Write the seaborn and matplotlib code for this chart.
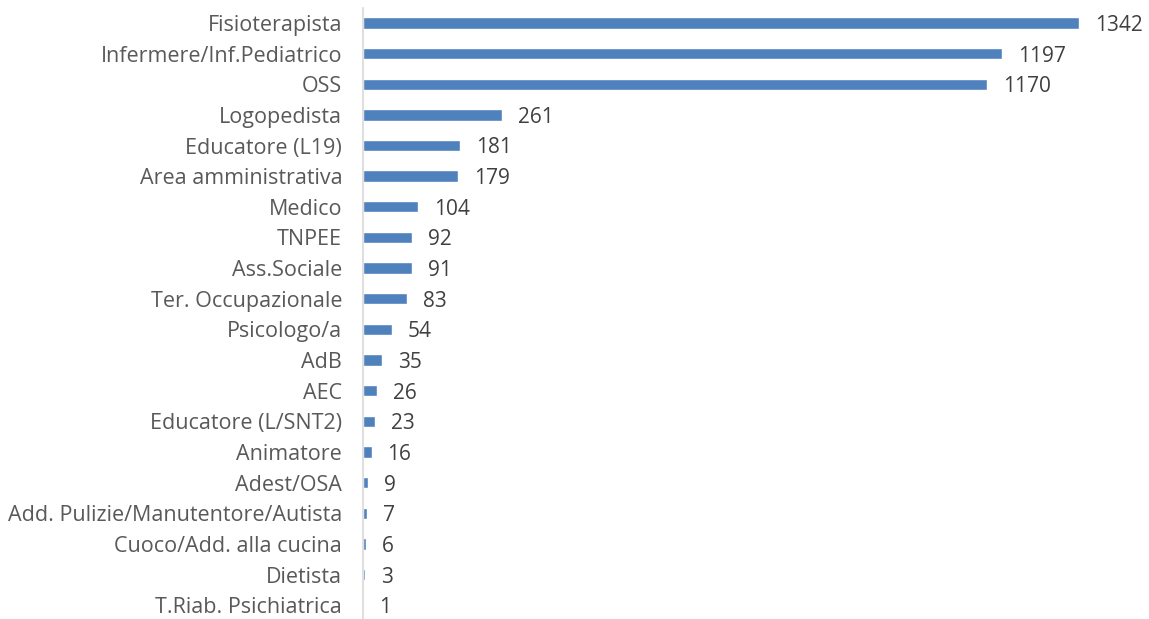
import matplotlib
matplotlib.use("Agg")
import matplotlib.pyplot as plt
import seaborn as sns
import pandas as pd

categories = ["Fisioterapista", "Infermere/Inf.Pediatrico", "OSS", "Logopedista",
              "Educatore (L19)", "Area amministrativa", "Medico", "TNPEE",
              "Ass.Sociale", "Ter. Occupazionale", "Psicologo/a", "AdB", "AEC",
              "Educatore (L/SNT2)", "Animatore", "Adest/OSA",
              "Add. Pulizie/Manutentore/Autista", "Cuoco/Add. alla cucina",
              "Dietista", "T.Riab. Psichiatrica"]
values = [1342, 1197, 1170, 261, 181, 179, 104, 92, 91, 83, 54, 35, 26, 23, 16, 9, 7, 6, 3, 1]

df = pd.DataFrame({"cat": categories, "val": values})

sns.set_theme(style="white")
plt.rcParams['font.family'] = ['Open Sans', 'DejaVu Sans']

fig = plt.figure(figsize=(11.49, 6.19), dpi=100)
ax = fig.add_axes([363/1149, 0.0, (1140-363)/1149, 1 - 7.6/619])
sns.barplot(data=df, x="val", y="cat", orient="h", color="#4F81BD",
            saturation=1, width=0.37, ax=ax)
ax.set_xlim(0, 777/0.5335)
ax.set_ylim(19.45, -0.5)
for i, v in enumerate(values):
    ax.text(v + 30, i + 0.08, str(v), va="center", ha="left", fontsize=15, color="#404040")
ax.set_xlabel("")
ax.set_ylabel("")
ax.set_xticks([])
for s in ["top", "right", "bottom"]:
    ax.spines[s].set_visible(False)
ax.spines["left"].set_color("#D9D9D9")
ax.spines["left"].set_linewidth(1.2)
ax.tick_params(axis="y", length=0, pad=15, labelsize=15.5, labelcolor="#595959")
for lbl in ax.get_yticklabels():
    lbl.set_y(lbl.get_position()[1])
fig.savefig("out.png", dpi=100)
